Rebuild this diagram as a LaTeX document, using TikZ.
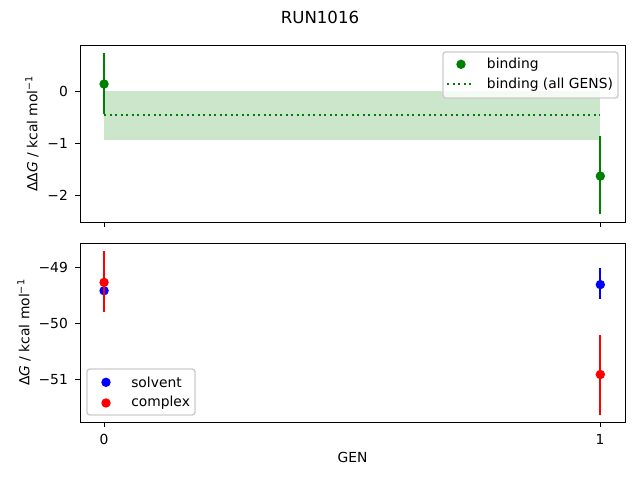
\documentclass[tikz,border=0pt]{standalone}
\usepackage{fontspec}
\setmainfont{DejaVu Sans}
\usepackage{tikz}
\usetikzlibrary{positioning, calc}

\definecolor{mplgreen}{HTML}{008000}
\definecolor{mplblue}{HTML}{0000FF}
\definecolor{mplred}{HTML}{FF0000}
\definecolor{shadegreen}{HTML}{CCE6CC}
\definecolor{framegray}{HTML}{CCCCCC}

\tikzset{
  axisframe/.style={draw=black, line width=0.7pt},
  tickmark/.style={line width=0.7pt},
  ticklabel/.style={font=\fontsize{10}{12}\selectfont, inner sep=0pt},
  marker/.style={circle, fill=#1, inner sep=0pt, minimum size=6.8pt},
  errbar/.style={draw=#1, line width=1.5pt},
  legendbox/.style={draw=framegray, line width=1pt, fill=white, fill opacity=0.8, rounded corners=2pt},
  legendtext/.style={font=\fontsize{10}{12}\selectfont, inner sep=0pt, anchor=west},
}

\begin{document}
\begin{tikzpicture}[x=0.01in, y=-0.01in]
\useasboundingbox (0,0) rectangle (640,480);

\node (title) at (320,17) {\fontsize{12}{14}\selectfont RUN1016};

% top panel: binding
\begin{scope}[xshift=1.04in, yshift=-0.91in, x=4.96in, y=0.522in]
  \fill[shadegreen] (0,-0.94) rectangle (1,0);
  \draw[mplgreen, line width=1.5pt, dash pattern=on 1.5pt off 2.475pt] (0,-0.46) -- (1,-0.46);
  \draw[errbar=mplgreen] (0,-0.446) -- (0,0.722);
  \draw[errbar=mplgreen] (1,-2.356) -- (1,-0.862);
  \node[marker=mplgreen] (bind0) at (0,0.134) {};
  \node[marker=mplgreen] (bind1) at (1,-1.628) {};
\end{scope}
\draw[axisframe] (80,45) rectangle (625,222.5);
\foreach \v/\py in {0/91, −1/143.2, −2/195.4}
  \draw[tickmark] (80,\py) -- (75.1,\py) node[ticklabel, anchor=east, xshift=-4.9pt] {\v};
\foreach \px in {104, 600}
  \draw[tickmark] (\px,222.5) -- (\px,227.4);
\node[rotate=90] (ylabtop) at (32,133.5) {ΔΔ\textit{G} / kcal mol\textsuperscript{−1}};

\draw[legendbox] (443,52) rectangle (618,98);
\node[marker=mplgreen] (legbind) at (461,64.3) {};
\draw[mplgreen, line width=1.5pt, dash pattern=on 1.5pt off 2.475pt] (447,84.3) -- (474,84.3);
\node[legendtext] (legbindtxt) at (486.7,64.3) {binding};
\node[legendtext] (legalltxt) at (486.7,84.3) {binding (all GENS)};

% bottom panel: solvent and complex
\begin{scope}[xshift=1.04in, yshift=24.665in, x=4.96in, y=0.558in]
  \draw[errbar=mplblue] (0,-49.46) -- (0,-49.36);
  \node[marker=mplblue] (solv0) at (0,-49.41) {};
  \draw[errbar=mplblue] (1,-49.56) -- (1,-49.01);
  \node[marker=mplblue] (solv1) at (1,-49.30) {};
  \draw[errbar=mplred] (0,-49.79) -- (0,-48.70);
  \node[marker=mplred] (comp0) at (0,-49.26) {};
  \draw[errbar=mplred] (1,-51.63) -- (1,-50.21);
  \node[marker=mplred] (comp1) at (1,-50.91) {};
\end{scope}
\draw[axisframe] (80,243) rectangle (625,422);
\foreach \v/\py in {−49/267.7, −50/323.5, −51/379.3}
  \draw[tickmark] (80,\py) -- (75.1,\py) node[ticklabel, anchor=east, xshift=-4.9pt] {\v};
\foreach \v/\px in {0/104, 1/600}
  \draw[tickmark] (\px,422) -- (\px,426.9) node[ticklabel, anchor=north, yshift=-4.9pt] {\v};
\node[rotate=90] (ylabbot) at (24,332.5) {Δ\textit{G} / kcal mol\textsuperscript{−1}};
\node (xlab) at (352.5,457) {GEN};

\draw[legendbox] (87,369) rectangle (195,415);
\node[marker=mplblue] (legsolv) at (106,382.3) {};
\node[marker=mplred] (legcomp) at (106,403) {};
\node[legendtext] (legsolvtxt) at (131,382.3) {solvent};
\node[legendtext] (legcomptxt) at (131,403) {complex};
\end{tikzpicture}
\end{document}
